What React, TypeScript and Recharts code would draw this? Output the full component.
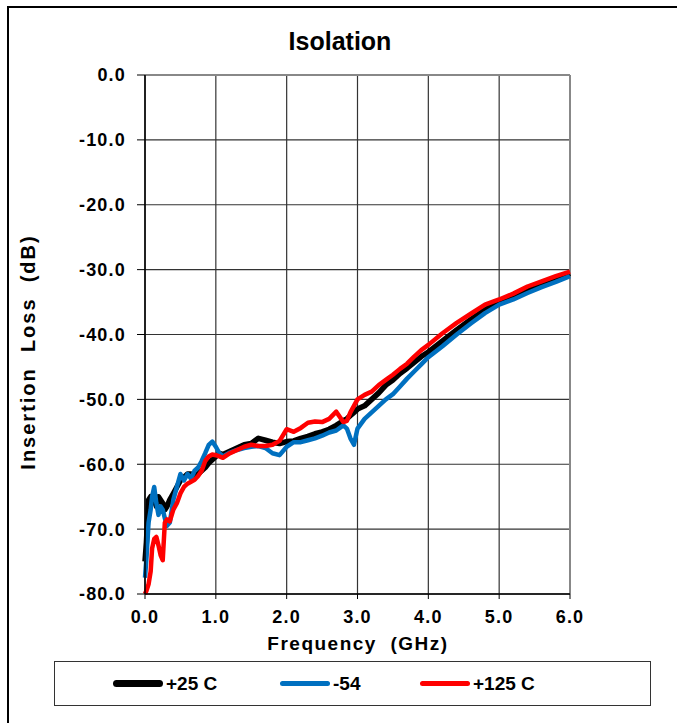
import React from "react";
import { LineChart, Line, XAxis, YAxis, CartesianGrid, ReferenceLine } from "recharts";

// frequency points in GHz
const FREQ = [
  0, 0.02, 0.05, 0.08, 0.1, 0.13, 0.16, 0.19, 0.22, 0.25, 0.28, 0.31, 0.35, 0.4, 0.45, 0.5,
  0.55, 0.6, 0.65, 0.7, 0.75, 0.8, 0.85, 0.9, 0.95, 1.0, 1.05, 1.1, 1.2, 1.3, 1.4, 1.5, 1.6,
  1.7, 1.8, 1.9, 2.0, 2.1, 2.2, 2.3, 2.4, 2.5, 2.6, 2.7, 2.8, 2.85, 2.9, 2.95, 3.0, 3.1, 3.2,
  3.3, 3.4, 3.5, 3.6, 3.7, 3.8, 3.9, 4.0, 4.2, 4.4, 4.6, 4.8, 5.0, 5.2, 5.4, 5.6, 5.8, 6.0,
];

const T25 = [
  -75, -72, -65.5, -65, -66, -64.5, -66.5, -65, -65.5, -66, -67, -66.5, -65.5, -64.5, -63.5, -62.5,
  -62, -61.5, -61.5, -62, -61.5, -61, -60.5, -59.8, -59.3, -58.8, -58.3, -58.5, -58, -57.5, -57, -56.8, -56,
  -56.3, -56.6, -56.8, -56.5, -56.4, -56, -55.7, -55.3, -55, -54.6, -54, -53.3, -53, -52.5, -52, -51.5, -51, -50,
  -49, -47.8, -47, -46, -45.2, -44.3, -43.4, -42.7, -41, -39.3, -37.7, -36.2, -35, -34.2, -33.2, -32.3, -31.4, -30.6,
];

const TM54 = [
  -77.5, -74.5, -69, -67, -65, -63.5, -66, -67.8, -66.5, -67, -68.3, -69.5, -69, -65.5, -63.5, -61.5,
  -62.5, -61.5, -62.2, -61, -60.5, -59.5, -58.3, -57, -56.5, -57.3, -58.3, -58.8, -58.2, -57.8, -57.5, -57.3, -57.2,
  -57.5, -58.3, -58.6, -57.3, -56.6, -56.6, -56.3, -56, -55.6, -55.1, -54.8, -54, -54.5, -56, -57, -54.5, -53, -52,
  -51, -50, -49.2, -48, -46.8, -45.7, -44.6, -43.5, -41.8, -40, -38.3, -36.7, -35.4, -34.6, -33.6, -32.7, -31.9, -31,
];

const T125 = [
  -80, -79.5, -78.5, -76.5, -73, -71.5, -71.2, -72.5, -74, -74.8, -69, -68.5, -68.8, -67, -66, -64.5,
  -63.5, -63, -62.7, -62.4, -61.8, -61, -59.5, -58.8, -58.5, -58.6, -58.8, -59, -58.3, -57.8, -57.3, -57, -57.2,
  -57.2, -57, -56.4, -54.6, -55, -54.4, -53.6, -53.4, -53.5, -53, -51.9, -53.5, -53.3, -52, -51, -50, -49.3, -48.8,
  -47.8, -47, -46.2, -45.3, -44.5, -43.4, -42.4, -41.6, -39.8, -38.2, -36.8, -35.4, -34.6, -33.7, -32.6, -31.8, -31, -30.3,
];

const X_TICKS = [0, 1, 2, 3, 4, 5, 6];
const Y_TICKS = [-80, -70, -60, -50, -40, -30, -20, -10, 0];

const SERIES = [
  { key: "t25", name: "+25 C", color: "#000000", width: 5.5, legendWidth: 7 },
  { key: "tm54", name: "-54", color: "#0070C0", width: 4.5, legendWidth: 5 },
  { key: "t125", name: "+125 C", color: "#FF0000", width: 4.5, legendWidth: 5 },
];

const data = FREQ.map((f, i) => ({ f, t25: T25[i], tm54: TM54[i], t125: T125[i] }));

const font = "'Liberation Sans', Arial, sans-serif";
const tickStyle = { fontFamily: font, fontSize: 18, fontWeight: 700, fill: "#000", letterSpacing: 1.2 };

export default function App() {
  return (
    <div style={{ position: "absolute", left: 0, top: 0, width: 677, height: 723, overflow: "hidden", background: "#fff", fontFamily: font }}>
      <div style={{ position: "absolute", left: 7, top: 6, width: 700, height: 740, border: "2px solid #000" }} />
      <div style={{ position: "absolute", left: 240, top: 27, width: 200, textAlign: "center", fontSize: 25, fontWeight: 700 }}>
        Isolation
      </div>
      <div style={{ position: "absolute", left: 0, top: 0 }}>
        <LineChart width={677} height={723} data={data} margin={{ top: 75, right: 107, bottom: 99, left: 85 }}>
          <CartesianGrid stroke="#333" strokeWidth={1.2} />
          <XAxis
            dataKey="f"
            type="number"
            domain={[0, 6]}
            ticks={X_TICKS}
            tickFormatter={(v: number) => v.toFixed(1)}
            tick={tickStyle}
            tickSize={5}
            tickMargin={11}
            height={30}
            axisLine={{ stroke: "#000", strokeWidth: 1.5 }}
            tickLine={{ stroke: "#000" }}
          />
          <YAxis
            type="number"
            domain={[-80, 0]}
            ticks={Y_TICKS}
            tickFormatter={(v: number) => v.toFixed(1)}
            tick={tickStyle}
            tickSize={8}
            tickMargin={11}
            width={60}
            axisLine={{ stroke: "#000", strokeWidth: 1.5 }}
            tickLine={{ stroke: "#000" }}
          />
          <ReferenceLine y={0} stroke="#888" strokeWidth={2} />
          <ReferenceLine x={6} stroke="#888" strokeWidth={2} />
          {SERIES.map((s) => (
            <Line
              key={s.key}
              dataKey={s.key}
              name={s.name}
              type="linear"
              stroke={s.color}
              strokeWidth={s.width}
              strokeLinejoin="round"
              dot={false}
              isAnimationActive={false}
            />
          ))}
        </LineChart>
      </div>
      <div style={{ position: "absolute", left: 28, top: 352, width: 0, height: 0 }}>
        <div
          style={{
            position: "absolute", left: -200, top: -13, width: 400, textAlign: "center",
            transform: "rotate(-90deg)", fontSize: 20, fontWeight: 700, whiteSpace: "pre",
            lineHeight: "26px", letterSpacing: 2,
          }}
        >
          {"Insertion  Loss  (dB)"}
        </div>
      </div>
      <div
        style={{
          position: "absolute", left: 158, top: 633, width: 400, textAlign: "center",
          fontSize: 19, fontWeight: 700, whiteSpace: "pre", letterSpacing: 1.5,
        }}
      >
        {"Frequency  (GHz)"}
      </div>
      <div
        style={{
          position: "absolute", left: 54, top: 661, width: 595, height: 43, border: "1.5px solid #333",
        }}
      >
        {SERIES.map((s, i) => (
          <div
            key={s.key}
            style={{
              position: "absolute", left: [58, 225, 365][i], top: 0, height: 43,
              display: "flex", alignItems: "center", fontSize: 19, fontWeight: 700,
            }}
          >
            <span style={{ display: "inline-block", width: 50, height: s.legendWidth, borderRadius: 4, background: s.color, marginRight: 3 }} />
            <span>{s.name}</span>
          </div>
        ))}
      </div>
    </div>
  );
}
